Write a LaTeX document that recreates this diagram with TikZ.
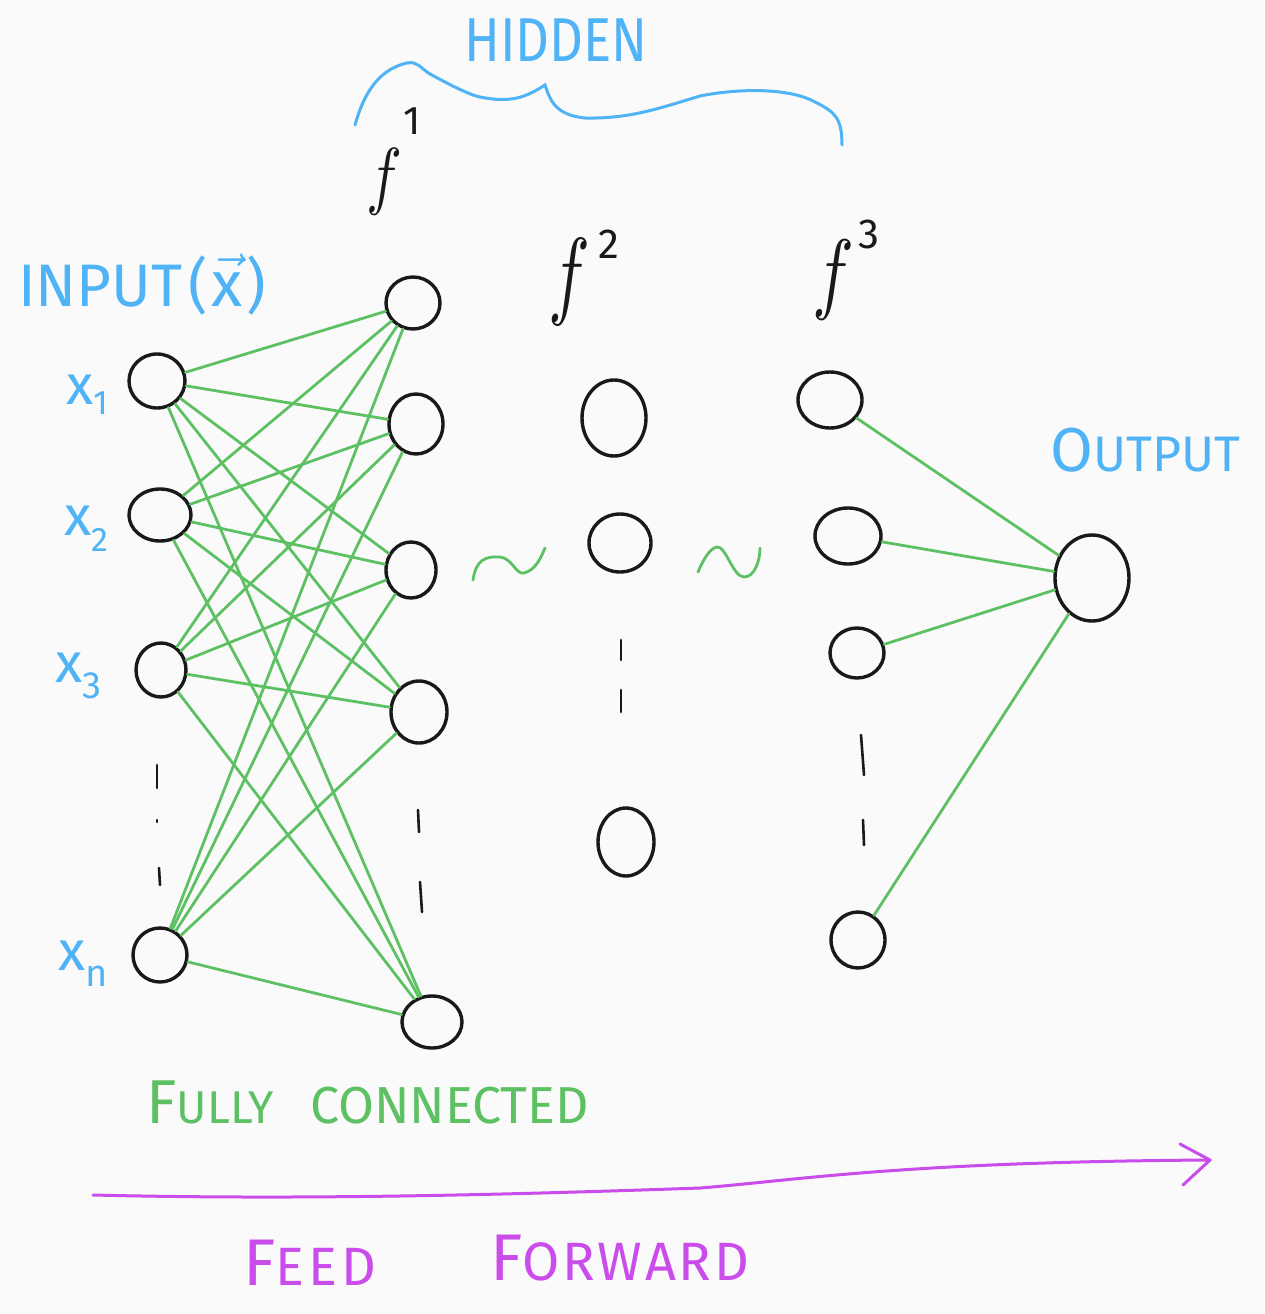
\documentclass[tikz,border=0pt]{standalone}
\usepackage{fontspec}
\setmainfont{Fira Sans}
\usetikzlibrary{shapes.geometric}
\definecolor{hblue}{HTML}{4FB3F6}
\definecolor{hgreen}{HTML}{5DC163}
\definecolor{hpurple}{HTML}{C94CEB}
\definecolor{bgc}{HTML}{FAFAFA}
\begin{document}
\begin{tikzpicture}[x=1pt,y=-1pt,
  neuron/.style={ellipse, draw=black!90, line width=3.4pt, inner sep=0pt},
  conn/.style={draw=hgreen, line width=2.8pt, line cap=round},
  dotline/.style={draw=black!90, line width=2.6pt, line cap=round},
  bluetext/.style={text=hblue, inner sep=0pt, anchor=base west},
  blacktext/.style={text=black!90, inner sep=0pt, anchor=base west},
  greentext/.style={text=hgreen, inner sep=0pt, anchor=base west},
  purptext/.style={text=hpurple, inner sep=0pt, anchor=base west}]
\fill[bgc] (0,0) rectangle (1264,1314);
\useasboundingbox (0,0) rectangle (1264,1314);

% input layer
\node[neuron, minimum width=56pt, minimum height=54pt] (i1) at (157,381) {};
\node[neuron, minimum width=62pt, minimum height=52pt] (i2) at (160,515) {};
\node[neuron, minimum width=50pt, minimum height=54pt] (i3) at (161,670) {};
\node[neuron, minimum width=54pt, minimum height=54pt] (in) at (160,955) {};

% hidden layer 1
\node[neuron, minimum width=54pt, minimum height=52pt] (a1) at (413,303) {};
\node[neuron, minimum width=54pt, minimum height=60pt] (a2) at (416,424) {};
\node[neuron, minimum width=50pt, minimum height=56pt] (a3) at (411,570) {};
\node[neuron, minimum width=56pt, minimum height=62pt] (a4) at (419,712) {};
\node[neuron, minimum width=60pt, minimum height=52pt] (a5) at (432,1022) {};

% hidden layer 2
\node[neuron, minimum width=64pt, minimum height=76pt] (b1) at (614,418) {};
\node[neuron, minimum width=62pt, minimum height=58pt] (b2) at (620,543) {};
\node[neuron, minimum width=56pt, minimum height=68pt] (b3) at (626,842) {};

% hidden layer 3
\node[neuron, minimum width=64pt, minimum height=56pt] (c1) at (830,400) {};
\node[neuron, minimum width=66pt, minimum height=56pt] (c2) at (848,536) {};
\node[neuron, minimum width=54pt, minimum height=50pt] (c3) at (857,653) {};
\node[neuron, minimum width=54pt, minimum height=56pt] (c4) at (858,940) {};

% output
\node[neuron, minimum width=74pt, minimum height=86pt] (o) at (1092,578) {};

% fully connected input -> layer 1
\foreach \s in {i1,i2,i3,in}{
  \foreach \t in {a1,a2,a3,a4,a5}{
    \draw[conn] (\s) -- (\t);
  }
}
% layer 3 -> output
\foreach \s in {c1,c2,c3,c4}{
  \draw[conn] (\s) -- (o);
}

% vertical ellipsis dashes
\draw[dotline] (157,765) -- (157,788);
\draw[dotline] (157,820) -- (157,822);
\draw[dotline] (159,868) -- (160,885);
\draw[dotline] (418,810) -- (419,832);
\draw[dotline] (420,882) -- (422,912);
\draw[dotline] (621,640) -- (621,660);
\draw[dotline] (621,690) -- (621,712);
\draw[dotline] (861,735) -- (864,775);
\draw[dotline] (863,820) -- (864,845);

% tildes
\draw[conn] (473,580) .. controls (476,560) and (485,556) .. (500,557)
  .. controls (512,558) and (516,575) .. (524,573) .. controls (535,570) and (540,560) .. (545,548);
\draw[conn] (698,572) .. controls (703,560) and (710,548) .. (717,547)
  .. controls (726,546) and (733,577) .. (744,577) .. controls (755,577) and (760,560) .. (760,548);

% brace over hidden layers
\draw[hblue, line width=3pt, line cap=round] (355,125) .. controls (362,100) and (375,70) .. (407,63)
  .. controls (418,61) and (420,68) .. (430,74)
  .. controls (450,85) and (470,95) .. (480,97)
  .. controls (510,103) and (525,98) .. (545,85)
  .. controls (550,100) and (555,115) .. (585,118)
  .. controls (630,119) and (660,108) .. (700,96)
  .. controls (740,88) and (790,88) .. (815,102)
  .. controls (835,112) and (842,118) .. (842,145);

% feed forward arrow
\draw[hpurple, line width=3pt, line cap=round, line join=round]
  (93,1195) .. controls (300,1200) and (500,1195) .. (700,1188)
  .. controls (800,1180) and (900,1162) .. (1210,1160);
\draw[hpurple, line width=3pt, line cap=round, line join=round]
  (1180,1144) -- (1210,1160) -- (1183,1185);

% labels
\node[bluetext] (lin) at (18,306) {\fontsize{60}{60}\selectfont INPUT\hspace{6pt}(\hspace{4pt}\scalebox{6.4}{\normalsize\(\vec{\mathrm{x}}\)}\hspace{4pt})};
\node[bluetext] (lhid) at (464,62) {\scalebox{0.85}[1]{\fontsize{62}{62}\selectfont HIDDEN}};
\node[bluetext] (lout) at (1050,471) {\fontsize{62}{62}\selectfont O\fontsize{50}{50}\selectfont UTPUT};

\node[bluetext] (lx1) at (66,404) {\fontsize{56}{56}\selectfont x\raisebox{-10pt}{\fontsize{34}{34}\selectfont 1}};
\node[bluetext] (lx2) at (64,535) {\fontsize{56}{56}\selectfont x\raisebox{-16pt}{\fontsize{34}{34}\selectfont 2}};
\node[bluetext] (lx3) at (55,682) {\fontsize{56}{56}\selectfont x\raisebox{-16pt}{\fontsize{38}{38}\selectfont 3}};
\node[bluetext] (lxn) at (58,970) {\fontsize{56}{56}\selectfont x\raisebox{-16pt}{\fontsize{38}{38}\selectfont n}};

\node[blacktext] (lf1) at (366,200) {\scalebox{6}[7.5]{\normalsize\(f\)}};
\node[blacktext] (ls1) at (403,134) {\fontsize{40}{40}\selectfont 1};
\node[blacktext] (lf2) at (548,306) {\scalebox{7}[9.8]{\normalsize\(f\)}};
\node[blacktext] (ls2) at (598,258) {\fontsize{42}{42}\selectfont 2};
\node[blacktext] (lf3) at (812,302) {\scalebox{7}[9]{\normalsize\(f\)}};
\node[blacktext] (ls3) at (858,248) {\fontsize{42}{42}\selectfont 3};

\node[greentext] (lfc) at (146,1123) {\fontsize{62}{62}\selectfont F\fontsize{46}{46}\selectfont ULLY\hspace{36pt}\fontsize{52}{52}\selectfont CONNECTED};
\node[purptext] (lfeed) at (243,1285) {\fontsize{66}{66}\selectfont F\fontsize{54}{54}\selectfont\addfontfeature{LetterSpace=8}EED};
\node[purptext] (lfwd) at (490,1280) {\fontsize{66}{66}\selectfont F\fontsize{54}{54}\selectfont\addfontfeature{LetterSpace=5}ORWARD};
\end{tikzpicture}
\end{document}
